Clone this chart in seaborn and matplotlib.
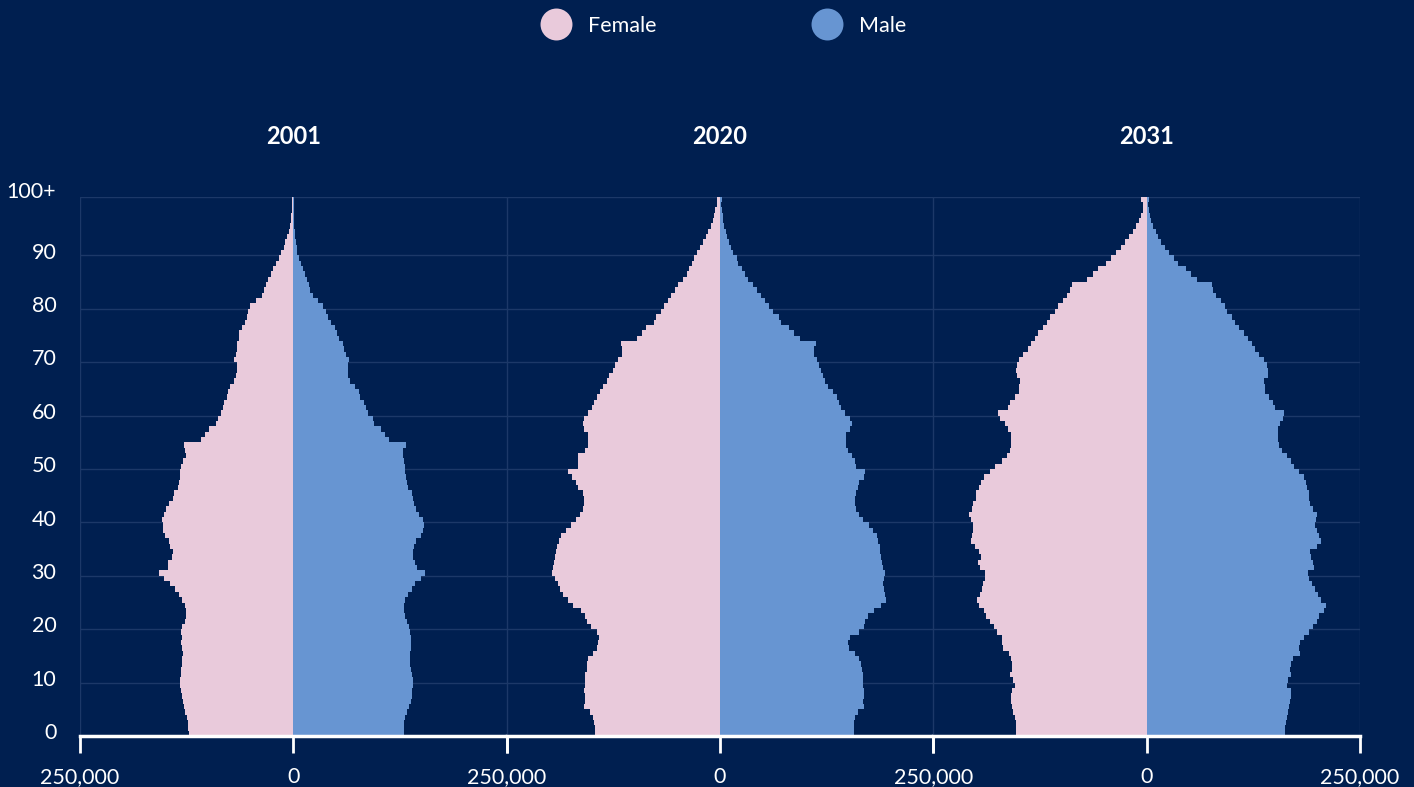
import numpy as np
import pandas as pd
import seaborn as sns
import matplotlib.pyplot as plt
from matplotlib.lines import Line2D

BG = '#001f50'
GRID = '#1c3868'
PINK = '#e9cadb'
BLUE = '#6795d2'

ages = list(range(101))
years = ['2001', '2020', '2031']

# population per single year of age, thousands (age 0 .. 100+)
female_2001 = [122.3, 123.5, 123.9, 124.7, 126.6, 127.8, 129.4, 130.5, 131.3, 132.5,
               133.3, 131.7, 131.3, 130.5, 130.5, 129.8, 130.5, 131.7, 130.5, 131.3,
               130.5, 126.6, 125.8, 125.8, 127.4, 130.5, 133.7, 139.2, 144.3, 152.1,
               157.2, 147.4, 147.0, 142.3, 141.1, 144.3, 146.2, 150.1, 152.9, 153.3,
               154.1, 151.3, 149.0, 146.2, 141.1, 140.3, 135.2, 134.5, 133.3, 133.0,
               131.7, 129.0, 126.0, 127.0, 128.2, 108.3, 104.0, 98.9, 90.3, 88.0,
               85.2, 82.5, 80.9, 78.2, 76.2, 74.3, 69.6, 67.3, 66.5, 65.7,
               69.6, 67.3, 66.5, 65.7, 63.7, 63.3, 60.6, 56.3, 54.7, 52.8,
               50.8, 43.4, 37.1, 34.4, 32.0, 29.3, 26.6, 23.9, 20.0, 16.8,
               14.5, 11.3, 9.5, 7.5, 5.5, 4.2, 3.2, 2.4, 1.7, 1.1, 2.0]
male_2001 = [129.4, 129.8, 130.1, 131.3, 133.3, 136.0, 138.0, 139.2, 139.6, 139.9,
             140.3, 139.2, 138.0, 137.2, 136.8, 137.2, 138.0, 138.0, 138.0, 137.2,
             136.0, 133.3, 130.9, 130.1, 130.1, 130.9, 134.1, 138.8, 143.1, 149.0,
             153.7, 145.0, 143.1, 140.7, 139.9, 141.1, 143.9, 149.0, 151.7, 152.9,
             151.7, 147.8, 143.9, 141.9, 139.9, 138.8, 134.8, 133.3, 132.1, 131.3,
             130.9, 130.1, 128.2, 129.0, 132.0, 112.5, 107.8, 102.7, 94.1, 93.3,
             87.0, 85.1, 83.1, 78.4, 76.4, 72.5, 65.9, 63.5, 63.5, 63.5,
             64.7, 61.9, 59.6, 57.6, 53.7, 51.7, 48.6, 43.9, 40.4, 38.0,
             34.9, 29.4, 23.1, 19.6, 18.0, 15.7, 13.7, 11.8, 8.6, 6.7,
             4.7, 3.7, 2.7, 2.1, 1.6, 1.2, 0.9, 0.7, 0.5, 0.4, 0.6]

female_2020 = [146.6, 146.6, 147.4, 148.6, 152.5, 159.5, 158.4, 158.4, 159.5, 158.4,
               158.4, 158.4, 156.4, 156.4, 154.4, 148.6, 143.9, 142.7, 141.5, 144.7,
               151.7, 156.4, 158.4, 163.4, 172.0, 177.9, 184.6, 187.7, 190.4, 193.5,
               197.5, 195.5, 194.3, 193.5, 192.8, 191.6, 188.9, 186.9, 180.6, 175.2,
               169.0, 164.3, 161.1, 159.5, 159.5, 161.1, 166.2, 169.3, 174.0, 177.9,
               166.2, 167.0, 166.2, 158.4, 154.4, 154.4, 154.4, 159.5, 161.1, 159.1,
               154.4, 150.5, 147.8, 143.9, 140.8, 136.9, 132.9, 129.8, 125.9, 123.2,
               120.0, 114.6, 114.6, 116.1, 97.0, 91.9, 86.8, 77.4, 75.1, 69.6,
               65.7, 61.4, 57.9, 52.8, 48.9, 43.8, 39.1, 36.0, 33.2, 30.5,
               27.4, 23.0, 19.6, 16.4, 13.7, 10.9, 8.6, 7.0, 5.5, 3.5, 3.9]
male_2020 = [156.4, 156.4, 157.2, 158.4, 161.1, 168.9, 167.3, 168.1, 168.1, 167.0,
             167.3, 167.0, 166.2, 165.0, 163.4, 158.4, 151.3, 149.4, 151.7, 163.4,
             168.9, 170.1, 173.2, 179.9, 188.5, 194.3, 193.5, 191.6, 190.4, 191.6,
             193.5, 190.8, 189.6, 188.5, 186.9, 187.7, 184.9, 183.8, 179.1, 174.0,
             167.3, 162.3, 159.5, 158.4, 158.4, 159.5, 161.1, 163.4, 168.9, 170.0,
             159.1, 157.9, 155.2, 150.1, 147.6, 147.6, 147.6, 152.3, 154.2, 152.3,
             146.4, 141.7, 139.3, 136.6, 132.7, 126.8, 122.9, 120.1, 117.8, 115.9,
             113.9, 110.0, 110.0, 112.4, 93.6, 86.6, 81.1, 71.1, 69.6, 62.6,
             57.9, 52.8, 47.7, 43.0, 39.1, 33.2, 29.3, 25.4, 21.5, 19.6,
             15.6, 12.5, 10.6, 7.8, 6.6, 4.7, 3.9, 3.1, 2.0, 1.2, 2.0]

female_2031 = [152.9, 152.9, 153.7, 154.8, 156.4, 157.6, 158.7, 159.5, 157.6, 154.8,
               156.4, 160.3, 157.6, 158.4, 159.5, 161.5, 168.1, 169.3, 170.1, 175.2,
               179.1, 183.8, 188.9, 190.8, 196.7, 198.6, 195.5, 192.8, 191.6, 189.6,
               190.0, 195.5, 197.5, 194.7, 196.7, 201.4, 205.7, 204.5, 203.7, 203.3,
               206.4, 208.4, 204.5, 203.3, 200.6, 199.8, 196.7, 193.9, 190.8, 183.8,
               177.9, 170.1, 164.2, 160.7, 159.5, 158.7, 158.7, 162.7, 166.6, 172.0,
               174.0, 163.0, 160.3, 154.4, 149.8, 149.8, 148.6, 152.5, 153.3, 151.7,
               149.8, 144.7, 139.2, 136.1, 131.0, 127.5, 121.6, 117.3, 113.4, 107.5,
               104.0, 98.5, 93.0, 89.9, 87.6, 70.4, 63.3, 56.7, 47.3, 42.2,
               35.6, 30.5, 25.0, 20.3, 15.6, 12.1, 9.0, 6.3, 4.3, 3.9, 6.3]
male_2031 = [162.3, 162.3, 163.0, 163.8, 165.0, 167.0, 168.1, 168.9, 168.9, 163.8,
             165.0, 168.9, 168.1, 168.9, 171.6, 179.9, 177.9, 179.9, 184.6, 189.6,
             194.3, 199.4, 202.1, 208.0, 210.0, 204.1, 200.2, 197.1, 193.2, 189.6,
             188.5, 195.5, 195.1, 192.4, 191.2, 199.4, 204.1, 201.4, 199.0, 197.5,
             198.2, 199.0, 194.3, 191.2, 190.4, 189.6, 187.7, 186.5, 183.8, 177.9,
             172.8, 168.9, 164.2, 158.0, 155.2, 154.0, 153.3, 153.3, 156.4, 159.1,
             161.1, 150.1, 147.4, 143.5, 138.8, 138.4, 137.6, 141.5, 141.5, 140.8,
             136.9, 131.0, 126.7, 122.8, 118.1, 114.2, 108.3, 103.2, 99.7, 94.6,
             91.5, 86.8, 80.9, 78.2, 75.9, 59.4, 52.4, 45.7, 36.8, 32.1,
             26.2, 21.1, 17.2, 13.7, 10.6, 7.8, 5.5, 3.9, 2.7, 2.0, 3.1]

female = [female_2001, female_2020, female_2031]
male = [male_2001, male_2020, male_2031]

sns.set_style('white')
plt.rcParams['font.family'] = ['Lato', 'DejaVu Sans']
plt.rcParams['text.color'] = 'white'

fig = plt.figure(figsize=(14.14, 7.87), dpi=100, facecolor=BG)

left0 = 80 / 1414
width = 426.7 / 1414
bottom = 1 - 736 / 787
height = (736 - 196.7) / 787

for i, year in enumerate(years):
    ax = fig.add_axes([left0 + i * width, bottom, width, height])
    ax.set_facecolor(BG)

    df = pd.DataFrame({
        'age': ages * 2,
        'pop': [-v * 1000 for v in female[i]] + [v * 1000 for v in male[i]],
        'sex': ['Female'] * len(ages) + ['Male'] * len(ages),
    })
    sns.barplot(data=df, x='pop', y='age', hue='sex', orient='y', native_scale=True,
                dodge=False, width=1, errorbar=None, legend=False, saturation=1,
                palette={'Female': PINK, 'Male': BLUE}, linewidth=0, ax=ax)
    # crisp edges, no seams between adjacent bars
    for p in ax.patches:
        p.set_antialiased(False)

    ax.set_xlim(-250000, 250000)
    ax.set_ylim(-0.5, 100.5)
    ax.set_xlabel('')
    ax.set_ylabel('')

    ax.set_xticks([-250000, 0, 250000])
    if i == 0:
        ax.set_xticklabels(['250,000', '0', '250,000'])
    else:
        ax.set_xticklabels(['', '0', '250,000'])
    ax.set_yticks([9.5 + 10 * k for k in range(9)] + [100.5], minor=True)
    ax.set_yticks([k + 0.4 for k in range(0, 100, 10)])
    if i == 0:
        ax.set_yticklabels([str(k) for k in range(0, 100, 10)])
        ax.text(-24 / 426.7, 101.4, '100+', transform=ax.get_yaxis_transform(),
                ha='right', va='center', fontsize=15.5, color='white', clip_on=False)
    else:
        ax.set_yticklabels([])

    ax.set_axisbelow(True)
    ax.grid(axis='x', which='major', color=GRID, lw=1)
    ax.grid(axis='y', which='minor', color=GRID, lw=1)
    ax.grid(axis='y', which='major', visible=False)

    ax.tick_params(axis='x', which='major', bottom=True, direction='out', length=12, width=2,
                   color='white', labelcolor='white', labelsize=15.5, pad=10.5)
    ax.tick_params(axis='y', which='both', left=False, length=0, labelcolor='white',
                   labelsize=15.5, pad=17)

    for s in ['top', 'left', 'right']:
        ax.spines[s].set_visible(False)
    ax.spines['bottom'].set_color('white')
    ax.spines['bottom'].set_linewidth(2.5)

    ax.text(0.5, 1 + (196.7 - 136) / 539.3, year, transform=ax.transAxes,
            ha='center', va='center', fontsize=17, fontweight='bold', color='white')

handles = [Line2D([], [], marker='o', ls='', markersize=23, markerfacecolor=PINK, markeredgewidth=0),
           Line2D([], [], marker='o', ls='', markersize=23, markerfacecolor=BLUE, markeredgewidth=0)]
fig.legend(handles, ['Female', 'Male'], loc='center', bbox_to_anchor=(723.5 / 1414, 1 - 26 / 787),
           ncol=2, frameon=False, fontsize=15.5, labelcolor='white',
           handlelength=1.4, handletextpad=0.8, columnspacing=7.2)

fig.savefig('out.png', dpi=100, facecolor=BG)
